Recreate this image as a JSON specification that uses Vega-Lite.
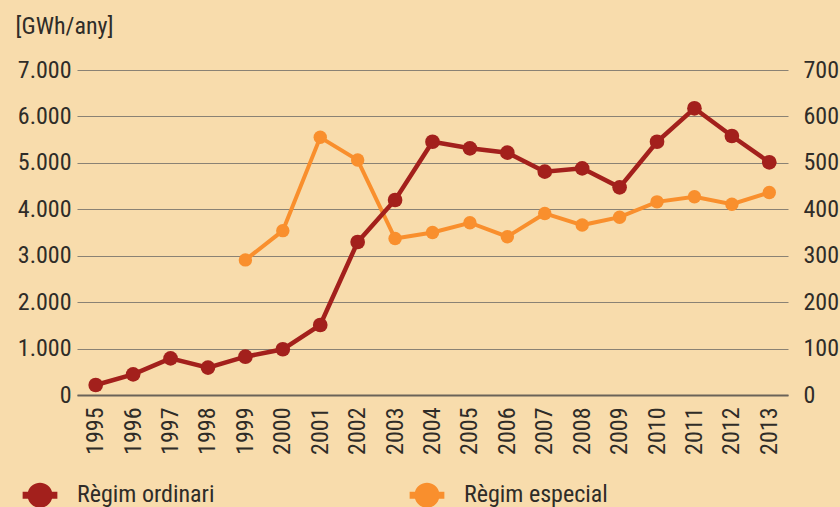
{
  "$schema": "https://vega.github.io/schema/vega-lite/v6.json",
  "width": 711,
  "height": 325,
  "autosize": {"type": "none"},
  "padding": {"left": 77, "top": 70, "right": 52, "bottom": 112},
  "background": "#f8dcac",
  "config": {
    "view": {"stroke": null},
    "font": "Liberation Sans Narrow, Roboto Condensed, Arial Narrow, sans-serif",
    "axis": {"labelFont": "Liberation Sans Narrow, Roboto Condensed, sans-serif", "labelFontSize": 24, "labelColor": "#2f2c28", "titleFont": "Liberation Sans Narrow, Roboto Condensed, sans-serif"},
    "legend": {"labelFont": "Liberation Sans Narrow, Roboto Condensed, sans-serif"}
  },
  "data": {
    "values": [
      {"year": "1995", "serie": "Règim ordinari", "value": 215},
      {"year": "1996", "serie": "Règim ordinari", "value": 445},
      {"year": "1997", "serie": "Règim ordinari", "value": 790},
      {"year": "1998", "serie": "Règim ordinari", "value": 590},
      {"year": "1999", "serie": "Règim ordinari", "value": 825},
      {"year": "2000", "serie": "Règim ordinari", "value": 985},
      {"year": "2001", "serie": "Règim ordinari", "value": 1508},
      {"year": "2002", "serie": "Règim ordinari", "value": 3295},
      {"year": "2003", "serie": "Règim ordinari", "value": 4200},
      {"year": "2004", "serie": "Règim ordinari", "value": 5455},
      {"year": "2005", "serie": "Règim ordinari", "value": 5313},
      {"year": "2006", "serie": "Règim ordinari", "value": 5220},
      {"year": "2007", "serie": "Règim ordinari", "value": 4810},
      {"year": "2008", "serie": "Règim ordinari", "value": 4882},
      {"year": "2009", "serie": "Règim ordinari", "value": 4473},
      {"year": "2010", "serie": "Règim ordinari", "value": 5455},
      {"year": "2011", "serie": "Règim ordinari", "value": 6175},
      {"year": "2012", "serie": "Règim ordinari", "value": 5578},
      {"year": "2013", "serie": "Règim ordinari", "value": 5012},
      {"year": "1999", "serie": "Règim especial", "value": 291},
      {"year": "2000", "serie": "Règim especial", "value": 354},
      {"year": "2001", "serie": "Règim especial", "value": 555},
      {"year": "2002", "serie": "Règim especial", "value": 506},
      {"year": "2003", "serie": "Règim especial", "value": 337},
      {"year": "2004", "serie": "Règim especial", "value": 350},
      {"year": "2005", "serie": "Règim especial", "value": 371},
      {"year": "2006", "serie": "Règim especial", "value": 341},
      {"year": "2007", "serie": "Règim especial", "value": 391},
      {"year": "2008", "serie": "Règim especial", "value": 366},
      {"year": "2009", "serie": "Règim especial", "value": 383},
      {"year": "2010", "serie": "Règim especial", "value": 416},
      {"year": "2011", "serie": "Règim especial", "value": 427},
      {"year": "2012", "serie": "Règim especial", "value": 411},
      {"year": "2013", "serie": "Règim especial", "value": 436}
    ]
  },
  "encoding": {
    "x": {
      "field": "year",
      "type": "ordinal",
      "scale": {"type": "point", "padding": 0.5},
      "axis": {
        "title": null,
        "labelAngle": -90,
        "labelPadding": 12,
        "ticks": false,
        "domainColor": "#6a6358",
        "domainWidth": 2,
        "grid": false
      }
    },
    "color": {
      "field": "serie",
      "type": "nominal",
      "scale": {"domain": ["Règim ordinari", "Règim especial"], "range": ["#a3201c", "#f98f2d"]},
      "legend": {
        "title": null,
        "orient": "none",
        "legendX": -51,
        "legendY": 411,
        "direction": "horizontal",
        "padding": 0,
        "columnPadding": 194,
        "labelOffset": 23,
        "labelFontSize": 24,
        "labelColor": "#2f2c28",
        "symbolSize": 772,
        "symbolStrokeWidth": 0,
        "symbolType": "M0.8646,-0.25 L1.25,-0.25 L1.25,0.25 L0.8646,0.25 A0.9,0.9 0 0 1 -0.8646,0.25 L-1.25,0.25 L-1.25,-0.25 L-0.8646,-0.25 A0.9,0.9 0 0 1 0.8646,-0.25 Z",
        "symbolOpacity": 1
      }
    }
  },
  "layer": [
    {
      "transform": [{"filter": "datum.serie === 'Règim especial'"}],
      "mark": {"type": "line", "strokeWidth": 4, "point": {"filled": true, "size": 180, "opacity": 1}},
      "encoding": {
        "y": {
          "field": "value",
          "type": "quantitative",
          "scale": {"domain": [0, 700], "nice": false},
          "axis": {
            "orient": "right",
            "title": null,
            "values": [0, 100, 200, 300, 400, 500, 600, 700],
            "ticks": false,
            "domain": false,
            "grid": false,
            "labelPadding": 15,
            "labelAlign": "left"
          }
        }
      }
    },
    {
      "transform": [{"filter": "datum.serie === 'Règim ordinari'"}],
      "mark": {"type": "line", "strokeWidth": 4.5, "point": {"filled": true, "size": 215, "opacity": 1}},
      "encoding": {
        "y": {
          "field": "value",
          "type": "quantitative",
          "scale": {"domain": [0, 7000], "nice": false},
          "axis": {
            "orient": "left",
            "title": "[GWh/any]",
            "titleAngle": 0,
            "titleX": -62,
            "titleY": -37,
            "titleAlign": "left",
            "titleBaseline": "alphabetic",
            "titleFontSize": 24,
            "titleFontWeight": "normal",
            "titleColor": "#2f2c28",
            "values": [0, 1000, 2000, 3000, 4000, 5000, 6000, 7000],
            "labelExpr": "replace(format(datum.value, ','), ',', '.')",
            "ticks": false,
            "domain": false,
            "grid": true,
            "gridColor": "#8a8274",
            "gridWidth": 1.2,
            "labelPadding": 6
          }
        }
      }
    }
  ],
  "resolve": {"scale": {"y": "independent"}, "axis": {"y": "independent"}}
}
